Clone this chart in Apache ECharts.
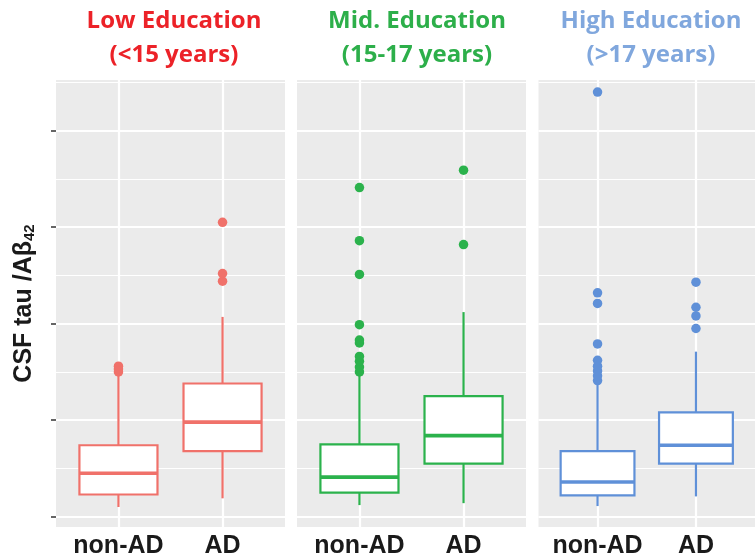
<!DOCTYPE html>
<html><head><meta charset="utf-8">
<script src="https://cdn.jsdelivr.net/npm/echarts@6/dist/echarts.min.js"></script>
<style>html,body{margin:0;padding:0;background:#fff}#c{width:755px;height:560px}</style>
</head><body><div id="c"></div>
<script>
// ---- data ----
const groups = ['non-AD', 'AD'];
const panelTitles = ['Low Education\n(<15 years)', 'Mid. Education\n(15-17 years)', 'High Education\n(>17 years)'];
// box stats per group: [lower whisker, Q1, median, Q3, upper whisker]
const lowBox = [[0.10, 0.23, 0.45, 0.74, 1.47], [0.19, 0.68, 0.98, 1.38, 2.07]];
const midBox = [[0.12, 0.25, 0.41, 0.75, 1.47], [0.14, 0.55, 0.84, 1.25, 2.12]];
const highBox = [[0.11, 0.22, 0.36, 0.68, 1.37], [0.21, 0.55, 0.74, 1.08, 1.71]];
const lowOutNonAD = [1.50, 1.53, 1.56];
const lowOutAD = [2.44, 2.52, 3.05];
const midOutNonAD = [1.50, 1.55, 1.61, 1.66, 1.80, 1.83, 1.99, 2.51, 2.86, 3.41];
const midOutAD = [2.82, 3.59];
const highOutNonAD = [1.41, 1.46, 1.51, 1.56, 1.62, 1.79, 2.21, 2.32, 4.40];
const highOutAD = [1.95, 2.08, 2.17, 2.43];
const yMajorTicks = [0, 1, 2, 3, 4];
const yMinorLines = [0.5, 1.5, 2.5, 3.5, 4.5];

// ---- styling ----
const boxColors = ['#F0716A', '#2BB24C', '#5F90D8'];
const titleColors = ['#EC2228', '#2DAF4A', '#80A7DD'];
const titleCenters = [174, 417, 651];
const gridLefts = [56, 297, 538.5];
const panelWidth = 229;
const yMin = -0.107, yMax = 4.525;

const boxes = [lowBox, midBox, highBox];
const outliers = [[lowOutNonAD, lowOutAD], [midOutNonAD, midOutAD], [highOutNonAD, highOutAD]];

function renderBox(color) {
  return function (params, api) {
    const x = api.value(0);
    const s = [api.value(1), api.value(2), api.value(3), api.value(4), api.value(5)];
    const half = 0.375;
    const pl = api.coord([x - half, s[1]]);
    const pr = api.coord([x + half, s[3]]);
    const pLow = api.coord([x, s[0]]), pQ1 = api.coord([x, s[1]]);
    const pQ3 = api.coord([x, s[3]]), pHigh = api.coord([x, s[4]]);
    const mL = api.coord([x - half, s[2]]), mR = api.coord([x + half, s[2]]);
    return {
      type: 'group',
      children: [
        { type: 'line', shape: { x1: pLow[0], y1: pLow[1], x2: pQ1[0], y2: pQ1[1] }, style: { stroke: color, lineWidth: 2.2 } },
        { type: 'line', shape: { x1: pQ3[0], y1: pQ3[1], x2: pHigh[0], y2: pHigh[1] }, style: { stroke: color, lineWidth: 2.2 } },
        { type: 'rect', shape: { x: pl[0], y: pr[1], width: pr[0] - pl[0], height: pl[1] - pr[1] }, style: { fill: '#fff', stroke: color, lineWidth: 2.2 } },
        { type: 'line', shape: { x1: mL[0], y1: mL[1], x2: mR[0], y2: mR[1] }, style: { stroke: color, lineWidth: 3.6 } }
      ]
    };
  };
}

const grid = [], xAxis = [], yAxis = [], series = [], title = [];
for (let p = 0; p < 3; p++) {
  grid.push({ left: gridLefts[p], top: 80, width: panelWidth, height: 447, show: true, backgroundColor: '#EBEBEB', borderWidth: 0 });
  title.push({
    text: panelTitles[p], left: titleCenters[p], top: 4, textAlign: 'center', padding: 0,
    textStyle: { color: titleColors[p], fontSize: 24, fontWeight: 'bold', fontFamily: 'Open Sans', lineHeight: 34 }
  });
  xAxis.push({
    gridIndex: p, type: 'value', min: 0.4, max: 2.6,
    axisLine: { show: false },
    axisTick: { show: true, customValues: [1, 2], length: 4, lineStyle: { color: '#333', width: 1.5 } },
    axisLabel: {
      customValues: [1, 2], formatter: v => groups[Math.round(v) - 1], margin: 7,
      fontSize: 25, fontWeight: 'bold', color: '#1a1a1a', fontFamily: 'Liberation Sans'
    },
    splitLine: { show: false }
  });
  yAxis.push({
    gridIndex: p, type: 'value', min: yMin, max: yMax,
    axisLine: { show: false },
    axisTick: { show: p === 0, customValues: yMajorTicks, length: 5, lineStyle: { color: '#333', width: 1.5 } },
    axisLabel: { show: false, customValues: yMajorTicks },
    splitLine: { show: false },
    name: p === 0 ? '{a|CSF tau /Aβ}{s|42}' : '',
    nameLocation: 'middle', nameRotate: 90, nameGap: 19,
    nameTextStyle: {
      rich: {
        a: { fontSize: 25, fontWeight: 'bold', color: '#1a1a1a', fontFamily: 'Liberation Sans' },
        s: { fontSize: 15, fontWeight: 'bold', color: '#1a1a1a', fontFamily: 'Liberation Sans', verticalAlign: 'bottom', padding: [10, 0, 0, 0] }
      }
    }
  });
  // gridlines
  const lines = [];
  yMajorTicks.forEach(v => lines.push({ yAxis: v, lineStyle: { color: '#fff', width: 2.2, type: 'solid' } }));
  yMinorLines.forEach(v => lines.push({ yAxis: v, lineStyle: { color: '#fff', width: 1, type: 'solid' } }));
  [1, 2].forEach(v => lines.push({ xAxis: v, lineStyle: { color: '#fff', width: 2.2, type: 'solid' } }));
  series.push({
    type: 'scatter', xAxisIndex: p, yAxisIndex: p, data: [], z: 1, silent: true,
    markLine: { z: 1, zlevel: 0, silent: true, symbol: 'none', label: { show: false }, animation: false, data: lines }
  });
  series.push({
    type: 'custom', xAxisIndex: p, yAxisIndex: p, z: 6, silent: true,
    renderItem: renderBox(boxColors[p]),
    encode: { x: 0, y: [1, 2, 3, 4, 5] },
    data: boxes[p].map((b, i) => [i + 1].concat(b))
  });
  const pts = [];
  outliers[p].forEach((arr, i) => arr.forEach(v => pts.push([i + 1, v])));
  series.push({
    type: 'scatter', xAxisIndex: p, yAxisIndex: p, z: 7, silent: true,
    symbol: 'circle', symbolSize: 9.5, itemStyle: { color: boxColors[p], opacity: 1 },
    data: pts
  });
}

const chart = echarts.init(document.getElementById('c'), null, { renderer: 'canvas' });
chart.setOption({ animation: false, backgroundColor: '#fff', title, grid, xAxis, yAxis, series });
</script>
</body></html>
